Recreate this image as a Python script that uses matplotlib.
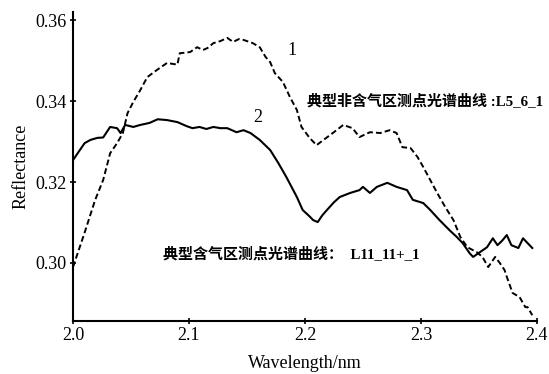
import numpy as np
import matplotlib.pyplot as plt

plt.rcParams['font.family'] = ['Liberation Serif', 'DejaVu Serif']

# curve 1: typical non-gas area (dashed)
wl1 = [2.000, 2.010, 2.019, 2.026, 2.032, 2.038, 2.043, 2.047, 2.052, 2.058, 2.064,
       2.072, 2.081, 2.090, 2.092, 2.101, 2.107, 2.112, 2.116, 2.121, 2.127, 2.133,
       2.138, 2.143, 2.147, 2.155, 2.161, 2.166, 2.170, 2.174, 2.181, 2.187, 2.193,
       2.197, 2.204, 2.210, 2.216, 2.224, 2.233, 2.241, 2.247, 2.256, 2.265, 2.273,
       2.279, 2.284, 2.291, 2.297, 2.302, 2.308, 2.314, 2.321, 2.328, 2.334, 2.340,
       2.348, 2.353, 2.358, 2.364, 2.368, 2.372, 2.375, 2.379, 2.385, 2.390, 2.392,
       2.396]
r1 = [0.2990, 0.3075, 0.3155, 0.3205, 0.3271, 0.3296, 0.3321, 0.3370, 0.3398, 0.3427, 0.3459,
      0.3476, 0.3494, 0.3490, 0.3518, 0.3521, 0.3533, 0.3526, 0.3531, 0.3543, 0.3548, 0.3556,
      0.3546, 0.3553, 0.3551, 0.3543, 0.3533, 0.3509, 0.3496, 0.3469, 0.3447, 0.3410, 0.3378,
      0.3336, 0.3309, 0.3291, 0.3304, 0.3321, 0.3341, 0.3333, 0.3311, 0.3323, 0.3321, 0.3328,
      0.3321, 0.3286, 0.3284, 0.3262, 0.3237, 0.3205, 0.3173, 0.3138, 0.3106, 0.3064, 0.3039,
      0.3027, 0.3015, 0.2990, 0.3015, 0.3000, 0.2983, 0.2958, 0.2926, 0.2916, 0.2891, 0.2891,
      0.2871]

# curve 2: typical gas area (solid)
wl2 = [2.000, 2.004, 2.010, 2.015, 2.021, 2.026, 2.032, 2.038, 2.041, 2.045, 2.052,
       2.058, 2.066, 2.073, 2.081, 2.090, 2.098, 2.103, 2.109, 2.115, 2.121, 2.127,
       2.133, 2.141, 2.147, 2.153, 2.161, 2.170, 2.177, 2.184, 2.193, 2.198, 2.204,
       2.207, 2.211, 2.215, 2.219, 2.225, 2.230, 2.239, 2.247, 2.250, 2.256, 2.262,
       2.271, 2.279, 2.288, 2.293, 2.302, 2.308, 2.316, 2.325, 2.331, 2.336, 2.342,
       2.345, 2.351, 2.357, 2.362, 2.366, 2.370, 2.374, 2.378, 2.384, 2.388, 2.392,
       2.396]
r2 = [0.3254, 0.3271, 0.3296, 0.3304, 0.3309, 0.3310, 0.3336, 0.3333, 0.3321, 0.3341, 0.3336,
      0.3341, 0.3346, 0.3355, 0.3353, 0.3348, 0.3338, 0.3333, 0.3336, 0.3331, 0.3336, 0.3333,
      0.3333, 0.3323, 0.3328, 0.3321, 0.3304, 0.3279, 0.3247, 0.3212, 0.3163, 0.3131, 0.3115,
      0.3106, 0.3101, 0.3118, 0.3131, 0.3150, 0.3163, 0.3173, 0.3180, 0.3188, 0.3173, 0.3188,
      0.3198, 0.3188, 0.3180, 0.3156, 0.3148, 0.3131, 0.3106, 0.3080, 0.3064, 0.3049, 0.3024,
      0.3015, 0.3027, 0.3039, 0.3061, 0.3044, 0.3055, 0.3069, 0.3044, 0.3037, 0.3061, 0.3049,
      0.3037]

xticks = [2.0, 2.1, 2.2, 2.3, 2.4]
yticks = [0.30, 0.32, 0.34, 0.36]

fig = plt.figure(figsize=(5.49, 3.74), dpi=100)
ax = fig.add_axes([0.133, 0.142, 0.845, 0.826])

ax.plot(wl1, r1, color='black', lw=1.4, linestyle=(0, (3, 1.6)))
ax.plot(wl2, r2, color='black', lw=1.5)

ax.set_xlim(2.0, 2.4)
ax.set_ylim(0.2857, 0.362)
ax.set_xticks(xticks)
ax.set_xticklabels(['%.1f' % v for v in xticks])
ax.set_yticks(yticks)
ax.set_yticklabels(['%.2f' % v for v in yticks])
ax.tick_params(direction='inout', length=5, width=1.2, labelsize=13, pad=2)

for s in ['top', 'right']:
    ax.spines[s].set_visible(False)
for s in ['left', 'bottom']:
    ax.spines[s].set_linewidth(1.5)

ax.set_xlabel('Wavelength/nm', fontsize=13, labelpad=8)
ax.set_ylabel('Reflectance', fontsize=13, labelpad=4)

ax.text(2.189, 0.3526, '1', fontsize=13, ha='center', va='center')
ax.text(2.159, 0.3360, '2', fontsize=13, ha='center', va='center')

# CJK annotations: Chinese in Noto Sans CJK, Latin part in serif
cjk = ['Liberation Serif', 'Noto Sans CJK SC', 'DejaVu Sans']
ax.text(2.202, 0.3400, '典型非含气区测点光谱曲线 :L5_6_1', fontsize=10.8,
        fontweight='bold', family=cjk, va='center', clip_on=False)
ax.text(2.078, 0.3023, '典型含气区测点光谱曲线：  L11_11+_1', fontsize=10.8,
        fontweight='bold', family=cjk, va='center')

fig.savefig('out.png', dpi=100)
